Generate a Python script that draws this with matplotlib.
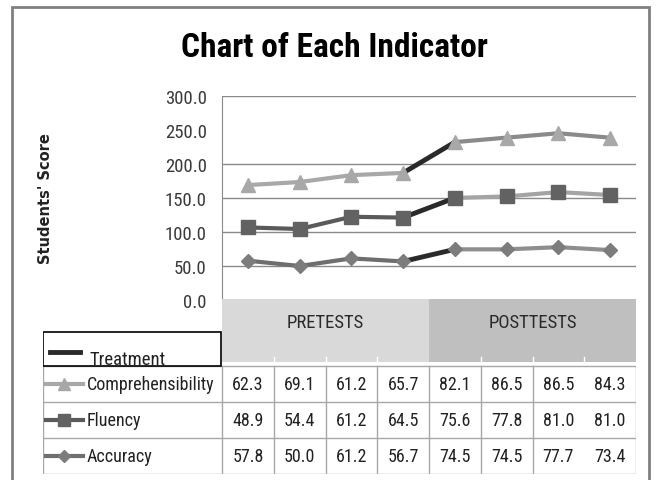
import matplotlib
matplotlib.use('Agg')
import matplotlib.pyplot as plt
from matplotlib import font_manager
from matplotlib.font_manager import FontProperties
from matplotlib.patches import Rectangle
import numpy as np

# data (values per test, in the order the table shows them)
phases = ['PRETESTS', 'POSTTESTS']
tests_per_phase = 4
series = ['Comprehensibility', 'Fluency', 'Accuracy']
comprehensibility = [62.3, 69.1, 61.2, 65.7, 82.1, 86.5, 86.5, 84.3]
fluency = [48.9, 54.4, 61.2, 64.5, 75.6, 77.8, 81.0, 81.0]
accuracy = [57.8, 50.0, 61.2, 56.7, 74.5, 74.5, 77.7, 73.4]
yticks = [0, 50, 100, 150, 200, 250, 300]
grid_vals = [50, 100, 150, 200, 300]
treatment_label = 'Treatment'


def is_narrow(f):
    st = str(f.stretch).lower()
    return ('narrow' in f.name.lower() or 'condensed' in f.name.lower()
            or st in ('condensed', 'semi-condensed', 'extra-condensed', 'ultra-condensed')
            or (st.isdigit() and int(st) < 500))


def weight_num(f):
    w = f.weight
    if isinstance(w, str):
        w = {'bold': 700, 'semibold': 600, 'demibold': 600, 'heavy': 800, 'black': 900,
             'light': 300, 'medium': 500}.get(w.lower(), 400)
    return w


def pick_font(bold):
    pref = ['Liberation Sans Narrow', 'Roboto Condensed', 'Open Sans Condensed',
            'Noto Sans', 'DejaVu Sans', 'Open Sans', 'Roboto']
    fonts = [f for f in font_manager.fontManager.ttflist
             if is_narrow(f) and f.style == 'normal' and (weight_num(f) >= 600) == bold]
    fonts.sort(key=lambda f: (pref.index(f.name) if f.name in pref else 99,
                              abs(weight_num(f) - (700 if bold else 400))))
    if fonts:
        return fonts[0].fname
    return None


reg_file = pick_font(False)
bold_file = pick_font(True)


def fp(size, bold=False):
    fname = bold_file if bold else reg_file
    if fname:
        return FontProperties(fname=fname, size=size)
    return FontProperties(family='Roboto', size=size, weight='bold' if bold else 'normal')


W, H = 656, 481
fig = plt.figure(figsize=(W / 100, H / 100), dpi=100)


def fx(px):
    return px / W


def fy(py):
    return 1 - py / H


# stacked totals
acc_c = np.array(accuracy)
flu_c = acc_c + np.array(fluency)
com_c = flu_c + np.array(comprehensibility)
n = len(accuracy)
xs = np.arange(n) + 0.5

# marker, marker color, pretest line, posttest line, marker size
styles = {
    'Comprehensibility': ('^', '#a8a8a8', '#a8a8a8', '#8a8a8a', 10.5),
    'Fluency': ('s', '#626262', '#5a5a5a', '#a4a4a4', 9.5),
    'Accuracy': ('D', '#7c7c7c', '#6e6e6e', '#8e8e8e', 7.5),
}
stacked = {'Comprehensibility': com_c, 'Fluency': flu_c, 'Accuracy': acc_c}
raw = {'Comprehensibility': comprehensibility, 'Fluency': fluency, 'Accuracy': accuracy}
treat_color = '#2a2a2a'

# ---- chart area
ax = fig.add_axes([fx(222), fy(301), fx(636 - 222), (301 - 97) / H])
ax.set_xlim(0, n)
ax.set_ylim(0, 300)
for v in grid_vals:
    ax.axhline(v, color='#8a8a8a', lw=1, zorder=1)
for s in ['top', 'right', 'bottom']:
    ax.spines[s].set_visible(False)
ax.spines['left'].set_color('#8a8a8a')
ax.set_xticks([])
ax.set_yticks(yticks)
ax.set_yticklabels([f'{v:.1f}' for v in yticks], fontproperties=fp(13.5), color='#3a3a3a')
ax.tick_params(axis='y', length=0, pad=11)

k = tests_per_phase
for name in series:
    mk, mc, pre_c, post_c, ms = styles[name]
    y = stacked[name]
    ax.plot(xs[:k], y[:k], color=pre_c, lw=3, zorder=3)
    ax.plot(xs[k - 1:k + 1], y[k - 1:k + 1], color=treat_color, lw=3.5, zorder=3)
    ax.plot(xs[k:], y[k:], color=post_c, lw=3, zorder=3)
    ax.plot(xs, y, ls='none', marker=mk, ms=ms, color=mc, zorder=4)

fig.text(fx(334), fy(48), 'Chart of Each Indicator', ha='center', va='center',
         fontproperties=fp(24, bold=True))
fig.text(fx(46), fy(199), "Students' Score", rotation=90, ha='center', va='center',
         fontsize=10.5, fontweight='bold', color='#222222')

# ---- data table below the chart
col_w = 414 / n


def tx(px):
    return (px - 222) / col_w


tab = fig.add_axes([fx(43), fy(475), fx(636 - 43), 175 / H])
tab.set_xlim(tx(43), n)
tab.set_ylim(175, 0)
tab.axis('off')

head_h = 63
row_top = 67
row_h = 36
head_colors = ['#d9d9d9', '#bfbfbf']
for i, ph in enumerate(phases):
    tab.add_patch(Rectangle((i * k, 0), k, head_h, fc=head_colors[i], ec='none'))
    tab.text(i * k + k / 2, 23, ph, ha='center', va='center', fontproperties=fp(13.5),
             color='#2a2a2a')
for j in range(1, n):
    if j != k:
        tab.plot([j, j], [head_h - 5, head_h], color='white', lw=1)

# treatment legend box
tab.add_patch(Rectangle((tx(43), 33), tx(221) - tx(43), row_top - 33, fc='white',
                        ec='black', lw=1.2, zorder=5))
tab.plot([tx(50), tx(80)], [53, 53], color=treat_color, lw=3.5, zorder=6)
tab.text(tx(89), 65, treatment_label, ha='left', va='baseline', fontproperties=fp(13.5),
         color='#222222', zorder=6)

grid_c = '#a8a8a8'
for r in range(len(series) + 1):
    yy = row_top + r * row_h
    tab.plot([tx(43), n], [yy, yy], color=grid_c, lw=1, zorder=2)
for j in [tx(43)] + list(range(0, n - 1)) + [n]:
    tab.plot([j, j], [row_top, row_top + len(series) * row_h], color=grid_c, lw=1, zorder=2)

for r, name in enumerate(series):
    mk, mc, pre_c, post_c, ms = styles[name]
    yc = row_top + r * row_h + row_h / 2
    tab.plot([tx(46), tx(83)], [yc, yc], color=pre_c, lw=3, zorder=3)
    tab.plot([tx(64)], [yc], marker=mk, ms=ms - 1.5, color=mc, zorder=4)
    tab.text(tx(87), yc, name, ha='left', va='center', fontproperties=fp(13),
             color='#222222')
    for i, v in enumerate(raw[name]):
        tab.text(i + 0.5, yc, f'{v:.1f}', ha='center', va='center', fontproperties=fp(13),
                 color='#222222')

# outer chart frame
fig.add_artist(Rectangle((fx(12), -0.1), fx(649 - 12), fy(8) + 0.1,
                         transform=fig.transFigure, fill=False, ec='#808080', lw=2))

fig.savefig('out.png', dpi=100)
